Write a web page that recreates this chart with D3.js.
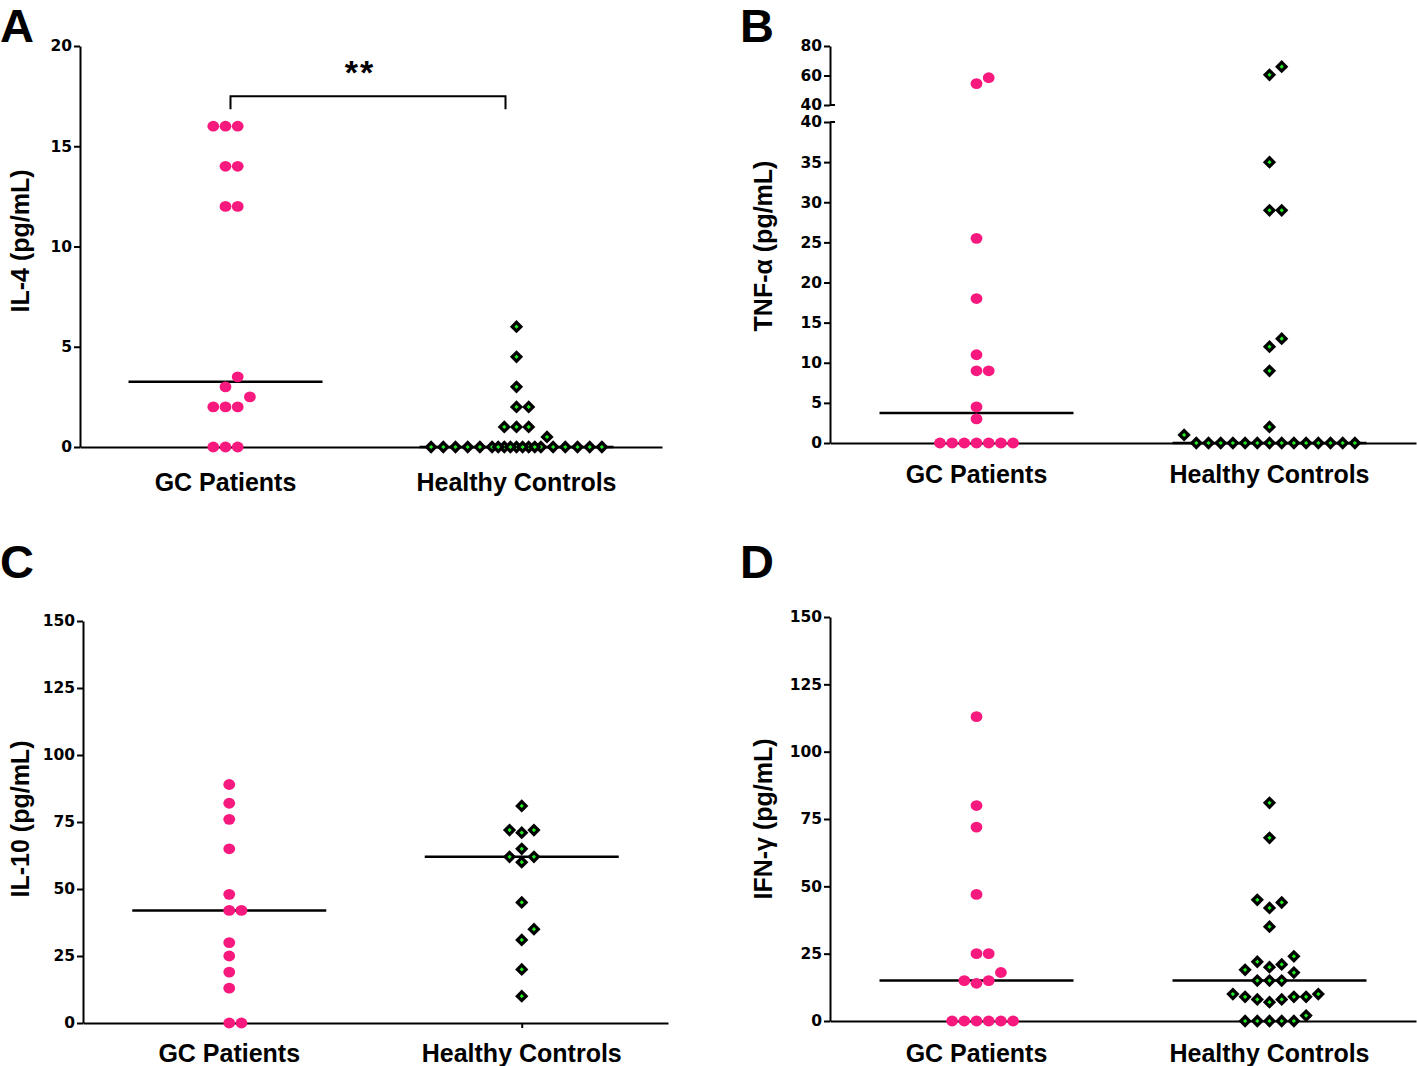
<!DOCTYPE html>
<html><head><meta charset="utf-8">
<script src="https://cdn.jsdelivr.net/npm/d3@7"></script>
<style>body{margin:0;background:#fff} svg{display:block}</style>
</head><body>
<svg id="c" width="1417" height="1066"></svg>
<script>
// ---------- DATA ----------
const groups = ["GC Patients", "Healthy Controls"];

const il4_gc = [16,16,16,14,14,12,12,3.5,3,2.5,2,2,2,0,0,0];
const il4_hc = [6,4.5,3,2,2,1,1,1,0.5,0,0,0,0,0,0,0,0,0,0,0,0,0,0,0,0,0,0,0];
const il4_ticks = [0,5,10,15,20];

const tnf_gc = [58.5,54.5,25.5,18,11,9,9,4.5,3,0,0,0,0,0,0,0];
const tnf_hc = [66,60.5,35,29,29,13,12,9,2,1,0,0,0,0,0,0,0,0,0,0,0,0,0,0];
const tnf_ticks_low = [0,5,10,15,20,25,30,35,40];
const tnf_ticks_high = [40,60,80];

const il10_gc = [89,82,76,65,48,42,42,30,25,19,13,0,0];
const il10_hc = [81,72,71,72,65,62,62,60,45,35,31,20,10];
const il10_ticks = [0,25,50,75,100,125,150];

const ifn_gc = [113,80,72,47,25,25,18,15,15,14,0,0,0,0,0,0];
const ifn_hc = [81,68,45,44,42,35,24,22,21,20,19,18,15,15,15,10,10,9,9,9,8,8,7,2,0,0,0,0,0];
const ifn_ticks = [0,25,50,75,100,125,150];

const panelLetters = ["A","B","C","D"];
const yTitles = ["IL-4 (pg/mL)","TNF-\u03b1 (pg/mL)","IL-10 (pg/mL)","IFN-\u03b3 (pg/mL)"];
const sigLabel = "**";

// ---------- STYLE ----------
const PINK = "#f8197f", GREEN = "#22ee22";
const TICKFONT = "'DejaVu Sans', sans-serif";
const TEXTFONT = "'Liberation Sans', Arial, Helvetica, sans-serif";
const svg = d3.select("#c");

function swarm(vals, yf, cx, slot=12.2, thr=11.5, K=7){
  const pts = vals.map((v,i)=>({v,i,y:yf(v)})).sort((a,b)=>a.v-b.v || a.i-b.i);
  const placed=[];
  const cand=[0]; for(let k=1;k<=K;k++) cand.push(k,-k);
  const half=[]; for(let k=0;k<=K;k++) half.push(k+0.5,-(k+0.5));
  for(const p of pts){
    let s=null;
    for(const k of cand){
      if(placed.every(q=>Math.hypot((q.k-k)*slot, q.y-p.y) >= thr)){s=k;break;}
    }
    if(s===null){
      for(const k of half){
        if(!placed.some(q=>Math.abs(q.k-k)<0.01 && Math.abs(q.y-p.y)<thr)){s=k;break;}
      }
    }
    p.k=s; placed.push(p);
  }
  return placed.map(p=>({v:p.v, x:cx+p.k*slot, y:p.y}));
}

function styleAxis(g){
  g.select(".domain").attr("stroke","#000").attr("stroke-width",2);
  g.selectAll(".tick line").attr("stroke","#000").attr("stroke-width",2);
  g.selectAll(".tick text").attr("font-family",TICKFONT).attr("font-weight","bold")
    .attr("font-size",15.5).attr("fill","#000");
}

function drawPanel(o){
  const g = svg.append("g");
  const x = d3.scalePoint().domain(groups).range([o.x0, o.x1]).padding(0.5);
  if(o.yHigh){
    g.append("g").attr("transform",`translate(${o.x0},0)`)
      .call(d3.axisLeft(o.y).tickValues(o.ticks).tickSize(6).tickSizeOuter(0).tickPadding(2))
      .call(styleAxis);
    g.append("g").attr("transform",`translate(${o.x0},0)`)
      .call(d3.axisLeft(o.yHigh).tickValues(o.ticksHigh).tickSize(6).tickSizeOuter(0).tickPadding(2))
      .call(styleAxis);
    [o.yHigh(40), o.y(40)].forEach(yy=>{
      g.append("line").attr("x1",o.x0).attr("x2",o.x0+5).attr("y1",yy).attr("y2",yy)
        .attr("stroke","#000").attr("stroke-width",2);
    });
  } else {
    g.append("g").attr("transform",`translate(${o.x0},0)`)
      .call(d3.axisLeft(o.y).tickValues(o.ticks).tickSize(6).tickSizeOuter(0).tickPadding(2))
      .call(styleAxis);
  }
  g.append("g").attr("transform",`translate(0,${o.y(0)})`)
    .call(d3.axisBottom(x).tickSize(5).tickSizeOuter(0).tickFormat(""))
    .call(styleAxis);
  groups.forEach(c=>{
    g.append("text").attr("x",x(c)).attr("y",o.labelY).attr("text-anchor","middle")
      .attr("font-family",TEXTFONT).attr("font-weight","bold").attr("font-size",25).text(c);
  });
  g.append("text").attr("transform",`translate(${o.titleX},${o.titleY}) rotate(-90)`)
    .attr("text-anchor","middle").attr("font-family",TEXTFONT).attr("font-weight","bold")
    .attr("font-size",25).text(o.title);
  g.append("text").attr("x",o.letterX).attr("y",o.letterY).attr("font-family",TEXTFONT)
    .attr("font-weight","bold").attr("font-size",47).text(o.letter);

  const yf = v => (o.yHigh && v>40) ? o.yHigh(v) : o.y(v);
  [o.gc, o.hc].forEach((vals,i)=>{
    const m = d3.median(vals);
    const cx = x(groups[i]);
    g.append("line").attr("x1",cx-97).attr("x2",cx+97).attr("y1",yf(m)).attr("y2",yf(m))
      .attr("stroke","#000").attr("stroke-width",2.5);
  });
  g.selectAll("ellipse.gc").data(swarm(o.gc, yf, x(groups[0]))).join("ellipse")
    .attr("class","gc").attr("cx",d=>d.x).attr("cy",d=>d.y).attr("rx",5.9).attr("ry",5.4).attr("fill",PINK);
  const hc = swarm(o.hc, yf, x(groups[1]));
  const outer = d3.symbol(d3.symbolSquare, 88)(), inner = d3.symbol(d3.symbolSquare, 9)();
  const hg = g.selectAll("g.hc").data(hc).join("g").attr("class","hc")
    .attr("transform",d=>`translate(${d.x},${d.y}) rotate(45)`);
  hg.append("path").attr("d",outer).attr("fill","#000");
  hg.append("path").attr("d",inner).attr("fill",GREEN);
  return {x, y:o.y, g};
}

// Panel A
const A = drawPanel({x0:80, x1:662, y:d3.scaleLinear().domain([0,20]).range([447,46]),
  ticks:il4_ticks, gc:il4_gc, hc:il4_hc, labelY:491, title:yTitles[0], titleX:29, titleY:241,
  letter:panelLetters[0], letterX:0, letterY:42});
{
  const xl = A.x(groups[0])+5, xr = A.x(groups[1])-11;
  const yt = A.y(17.5), yb = A.y(16.85);
  A.g.append("path").attr("d",`M${xl},${yb}V${yt}H${xr}V${yb}`).attr("fill","none")
    .attr("stroke","#000").attr("stroke-width",2);
  A.g.append("text").attr("x",(xl+xr)/2-8).attr("y",A.y(17.5)-12).attr("text-anchor","middle")
    .attr("font-family",TEXTFONT).attr("font-weight","bold").attr("font-size",34)
    .attr("letter-spacing",2).text(sigLabel);
}
// Panel B
drawPanel({x0:830, x1:1416, y:d3.scaleLinear().domain([0,40]).range([443,122]),
  yHigh:d3.scaleLinear().domain([40,80]).range([105,46]),
  ticks:tnf_ticks_low, ticksHigh:tnf_ticks_high, gc:tnf_gc, hc:tnf_hc, labelY:483,
  title:yTitles[1], titleX:772, titleY:246, letter:panelLetters[1], letterX:740, letterY:42});
// Panel C
drawPanel({x0:83, x1:668, y:d3.scaleLinear().domain([0,150]).range([1023,621]),
  ticks:il10_ticks, gc:il10_gc, hc:il10_hc, labelY:1062, title:yTitles[2], titleX:29, titleY:819,
  letter:panelLetters[2], letterX:0, letterY:578});
// Panel D
drawPanel({x0:830, x1:1416, y:d3.scaleLinear().domain([0,150]).range([1021,617]),
  ticks:ifn_ticks, gc:ifn_gc, hc:ifn_hc, labelY:1062, title:yTitles[3], titleX:772, titleY:819,
  letter:panelLetters[3], letterX:740, letterY:578});
</script>
</body></html>
